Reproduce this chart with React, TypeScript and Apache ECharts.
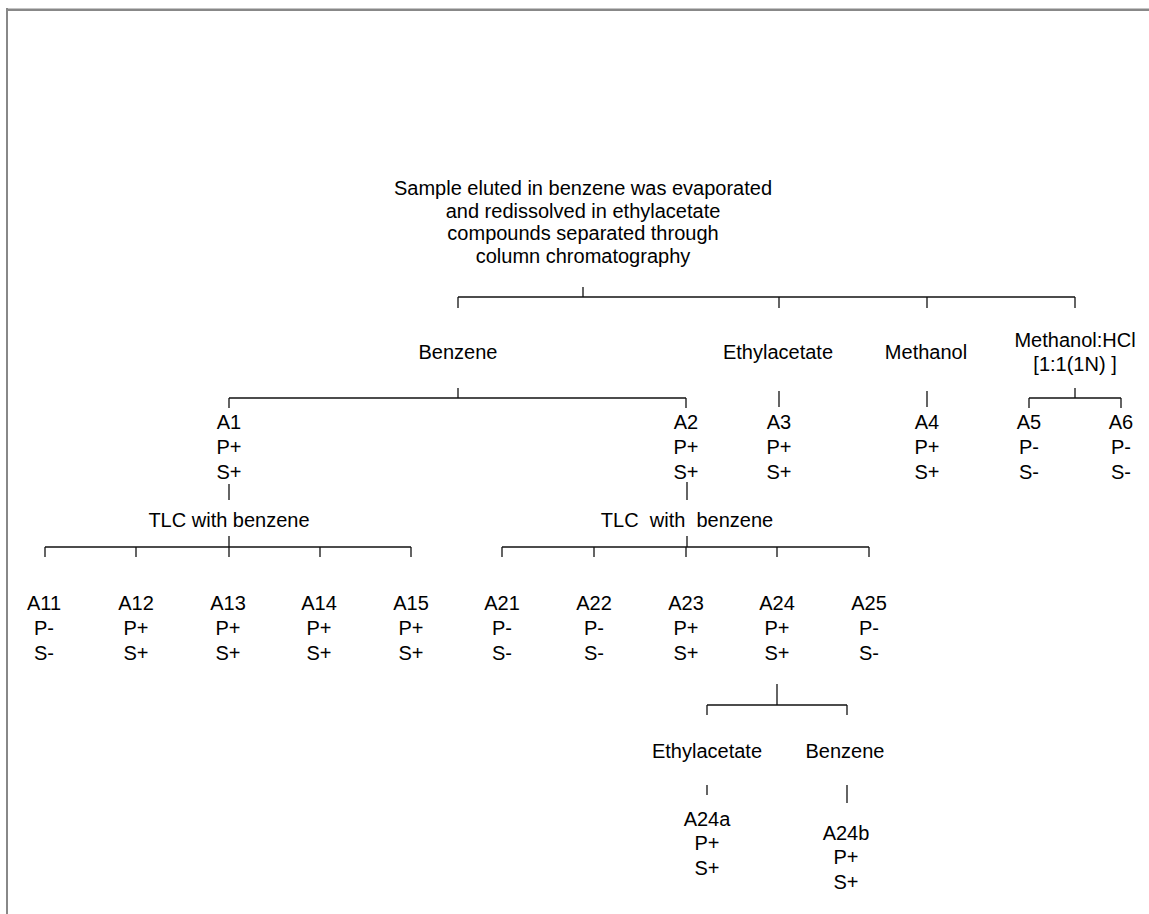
import React, { useEffect, useRef } from "react";
import * as echarts from "echarts";

const W = 1149;
const H = 914;

// ---------- labels (content) ----------
const titleLines = [
  "Sample eluted in benzene was evaporated",
  "and redissolved in ethylacetate",
  "compounds separated through",
  "column chromatography",
];
const solventLabels = ["Benzene", "Ethylacetate", "Methanol", "Methanol:HCl\n[1:1(1N) ]"];
const fractionNames = ["A1", "A2", "A3", "A4", "A5", "A6"];
const fractionP = ["P+", "P+", "P+", "P+", "P-", "P-"];
const fractionS = ["S+", "S+", "S+", "S+", "S-", "S-"];
const tlcLabels = ["TLC with benzene", "TLC  with  benzene"];
const subA1Names = ["A11", "A12", "A13", "A14", "A15"];
const subA1P = ["P-", "P+", "P+", "P+", "P+"];
const subA1S = ["S-", "S+", "S+", "S+", "S+"];
const subA2Names = ["A21", "A22", "A23", "A24", "A25"];
const subA2P = ["P-", "P-", "P+", "P+", "P-"];
const subA2S = ["S-", "S-", "S+", "S+", "S-"];
const a24Solvents = ["Ethylacetate", "Benzene"];
const a24Names = ["A24a", "A24b"];
const a24P = ["P+", "P+"];
const a24S = ["S+", "S+"];

// ---------- layout (diagram coordinates) ----------
const titlePos = [583, 222];
const solventX = [458, 778, 926, 1075];
const solventY = 352;
const fractionX = [229, 686, 779, 927, 1029, 1121];
const fractionY = 447;
const tlcX = [229, 687];
const tlcY = 520;
const subA1X = [44, 136, 228, 319, 411];
const subA2X = [502, 594, 686, 777, 869];
const subY = 628;
const a24SolventX = [707, 845];
const a24SolventY = 751;
const a24X = [707, 846];
const a24Y = [843, 857];

// brackets: [stemX, stemTop, barY, dropBottom, ...childX]
const brackets: number[][] = [
  [583, 287, 297, 308, 458, 779, 927, 1075],
  [458, 388, 398, 408, 229, 686],
  [1075, 388, 398, 408, 1029, 1121],
  [229, 536, 547, 557, 45, 136, 229, 320, 411],
  [687, 536, 547, 557, 502, 594, 686, 777, 869],
  [777, 684, 705, 715, 707, 847],
];
// simple verticals: [x, yTop, yBottom]
const stems: number[][] = [
  [779, 391, 407],
  [927, 391, 407],
  [229, 484, 500],
  [687, 482, 500],
  [707, 785, 795],
  [847, 785, 803],
];

const trip = (n: string, p: string, s: string) => `${n}\n${p}\n${s}`;

function buildTexts() {
  const t: (number | string)[][] = [];
  t.push([titlePos[0], titlePos[1], titleLines.join("\n"), 22.7]);
  solventLabels.forEach((s, i) => t.push([solventX[i], solventY, s, 23.5]));
  fractionNames.forEach((n, i) =>
    t.push([fractionX[i], fractionY, trip(n, fractionP[i], fractionS[i]), 25])
  );
  tlcLabels.forEach((s, i) => t.push([tlcX[i], tlcY, s, 23]));
  subA1Names.forEach((n, i) => t.push([subA1X[i], subY, trip(n, subA1P[i], subA1S[i]), 25]));
  subA2Names.forEach((n, i) => t.push([subA2X[i], subY, trip(n, subA2P[i], subA2S[i]), 25]));
  a24Solvents.forEach((s, i) => t.push([a24SolventX[i], a24SolventY, s, 23]));
  a24Names.forEach((n, i) => t.push([a24X[i], a24Y[i], trip(n, a24P[i], a24S[i]), 24.5]));
  return t;
}

function buildSegments() {
  const segs: number[][] = [];
  brackets.forEach((b) => {
    const [sx, st, by, db, ...kids] = b;
    segs.push([sx, st, sx, by]);
    segs.push([Math.min(...kids), by, Math.max(...kids), by]);
    kids.forEach((k) => segs.push([k, by, k, db]));
  });
  stems.forEach(([x, a, b]) => segs.push([x, a, x, b]));
  return segs;
}

const FONT = '"Liberation Sans", Arial, Helvetica, sans-serif';

export default function App() {
  const ref = useRef<HTMLDivElement>(null);
  useEffect(() => {
    document.body.style.margin = "0";
    const chart = echarts.init(ref.current!, undefined, { renderer: "svg" });
    const texts = buildTexts();
    chart.setOption({
      animation: false,
      backgroundColor: "#ffffff",
      grid: { left: 0, right: 0, top: 0, bottom: 0 },
      xAxis: { type: "value", min: 0, max: W, show: false },
      yAxis: { type: "value", min: 0, max: H, inverse: true, show: false },
      graphic: [
        { type: "line", shape: { x1: 6, y1: 8.5, x2: W, y2: 8.5 }, style: { stroke: "#c4c4c4", lineWidth: 1 } },
        { type: "line", shape: { x1: 6, y1: 10, x2: W, y2: 10 }, style: { stroke: "#888888", lineWidth: 2 } },
        { type: "line", shape: { x1: 7, y1: 8, x2: 7, y2: H }, style: { stroke: "#888888", lineWidth: 2 } },
      ],
      series: [
        {
          type: "custom",
          coordinateSystem: "cartesian2d",
          silent: true,
          data: buildSegments(),
          encode: { x: [0, 2], y: [1, 3] },
          renderItem: (params: any, api: any) => {
            const p1 = api.coord([api.value(0), api.value(1)]);
            const p2 = api.coord([api.value(2), api.value(3)]);
            return {
              type: "line",
              shape: { x1: p1[0], y1: p1[1], x2: p2[0], y2: p2[1] },
              style: { stroke: "#111111", lineWidth: 1.3 },
            };
          },
        },
        {
          type: "custom",
          coordinateSystem: "cartesian2d",
          silent: true,
          data: texts,
          encode: { x: 0, y: 1 },
          renderItem: (params: any, api: any) => {
            const p = api.coord([api.value(0), api.value(1)]);
            const d = texts[params.dataIndex];
            return {
              type: "text",
              x: p[0],
              y: p[1],
              style: {
                text: d[2] as string,
                fill: "#000000",
                fontSize: 20,
                fontFamily: FONT,
                align: "center",
                verticalAlign: "middle",
                lineHeight: d[3] as number,
              },
            };
          },
        },
      ],
    });
    return () => chart.dispose();
  }, []);
  return (
    <div
      ref={ref}
      style={{ position: "absolute", left: 0, top: 0, width: W, height: H, background: "#fff" }}
    />
  );
}
